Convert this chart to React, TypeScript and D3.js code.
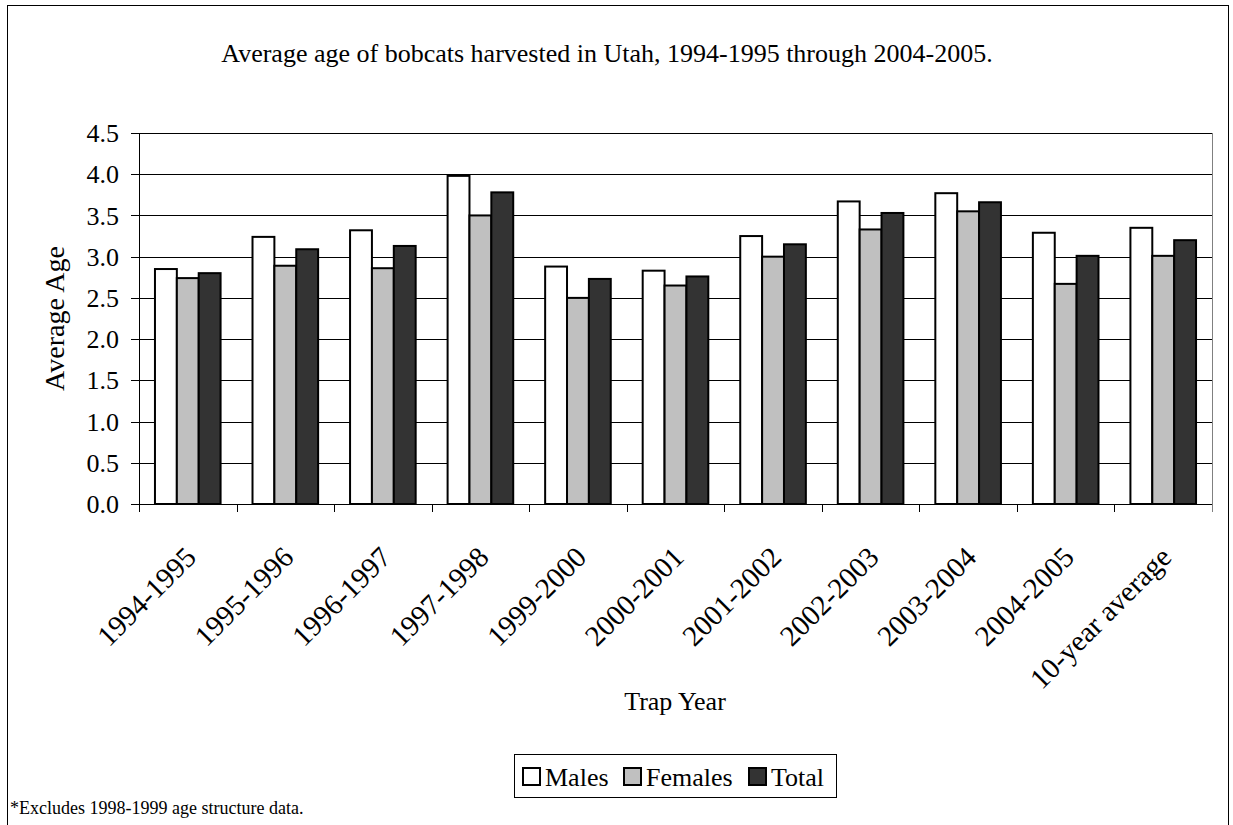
import React from "react";
import * as d3 from "d3";

// trap years on the x axis
const trapYears = [
  "1994-1995",
  "1995-1996",
  "1996-1997",
  "1997-1998",
  "1999-2000",
  "2000-2001",
  "2001-2002",
  "2002-2003",
  "2003-2004",
  "2004-2005",
  "10-year average",
];
const seriesNames = ["Males", "Females", "Total"];
const males = [2.85, 3.24, 3.32, 3.98, 2.88, 2.83, 3.25, 3.67, 3.77, 3.29, 3.35];
const females = [2.74, 2.89, 2.86, 3.5, 2.5, 2.65, 3.0, 3.33, 3.55, 2.67, 3.01];
const totals = [2.8, 3.09, 3.13, 3.78, 2.73, 2.76, 3.15, 3.53, 3.66, 3.01, 3.2];
const yTicks = [0, 0.5, 1, 1.5, 2, 2.5, 3, 3.5, 4, 4.5];

const title = "Average age of bobcats harvested in Utah, 1994-1995 through 2004-2005.";
const footnote = "*Excludes 1998-1999 age structure data.";

const W = 1233;
const H = 825;
const plot = { left: 139, right: 1212, top: 133, bottom: 504 };
const serif = { fontFamily: "'Liberation Serif', 'Times New Roman', serif" };
const fills: Record<string, string> = { Males: "#ffffff", Females: "#c0c0c0", Total: "#333333" };

export default function App() {
  const x0 = d3.scaleBand<string>().domain(trapYears).range([plot.left, plot.right]);
  const x1 = d3
    .scaleBand<string>()
    .domain(seriesNames)
    .range([0, x0.bandwidth()])
    .paddingOuter(0.73);
  const y = d3.scaleLinear().domain([0, 4.5]).range([plot.bottom, plot.top]);

  const values: Record<string, number[]> = { Males: males, Females: females, Total: totals };

  // legend swatch positions
  const legendX = [523, 624, 749];

  return (
    <svg
      width={W}
      height={H}
      style={{ position: "absolute", left: 0, top: 0, background: "#fff", ...serif }}
    >
      <rect x={0} y={0} width={W} height={H} fill="#fff" />
      {/* outer frame */}
      <rect x={7.5} y={5.5} width={1221} height={H} fill="none" stroke="#000" strokeWidth={1} />

      <text x={607} y={62} textAnchor="middle" fontSize={26} style={serif}>
        {title}
      </text>

      {/* gridlines */}
      {yTicks
        .filter((t) => t > 0)
        .map((t) => (
          <line
            key={"g" + t}
            x1={plot.left}
            x2={plot.right}
            y1={Math.round(y(t)) + 0.5}
            y2={Math.round(y(t)) + 0.5}
            stroke="#000"
            strokeWidth={1}
          />
        ))}
      <line x1={plot.right + 0.5} x2={plot.right + 0.5} y1={plot.top} y2={plot.bottom + 8} stroke="#808080" />

      {/* bars */}
      {trapYears.map((cat, i) => (
        <g key={cat}>
          {seriesNames.map((s) => (
            <rect
              key={s}
              x={(x0(cat) ?? 0) + (x1(s) ?? 0)}
              y={y(values[s][i])}
              width={x1.bandwidth()}
              height={y(0) - y(values[s][i])}
              fill={fills[s]}
              stroke="#000"
              strokeWidth={2}
            />
          ))}
        </g>
      ))}

      {/* y axis */}
      <line x1={plot.left + 0.5} x2={plot.left + 0.5} y1={plot.top} y2={plot.bottom} stroke="#000" />
      {yTicks.map((t) => (
        <g key={"t" + t}>
          <line
            x1={plot.left - 8}
            x2={plot.left}
            y1={Math.round(y(t)) + 0.5}
            y2={Math.round(y(t)) + 0.5}
            stroke="#000"
          />
          <text x={plot.left - 20} y={y(t)} dy="0.35em" textAnchor="end" fontSize={26} style={serif}>
            {t.toFixed(1)}
          </text>
        </g>
      ))}
      <text
        transform={`translate(64, ${(plot.top + plot.bottom) / 2}) rotate(-90)`}
        textAnchor="middle"
        fontSize={28}
        style={serif}
      >
        Average Age
      </text>

      {/* x axis */}
      <line x1={plot.left} x2={plot.right} y1={plot.bottom + 0.5} y2={plot.bottom + 0.5} stroke="#000" />
      {trapYears.map((cat) => (
        <line
          key={"xt" + cat}
          x1={Math.round(x0(cat) ?? 0) + 0.5}
          x2={Math.round(x0(cat) ?? 0) + 0.5}
          y1={plot.bottom}
          y2={plot.bottom + 8}
          stroke="#000"
        />
      ))}
      {trapYears.map((cat) => {
        const cx = (x0(cat) ?? 0) + x0.bandwidth() / 2 + 10;
        const cy = plot.bottom + 55;
        return (
          <text
            key={"xl" + cat}
            transform={`translate(${cx}, ${cy}) rotate(-45)`}
            textAnchor="end"
            fontSize={29}
            style={serif}
          >
            {cat}
          </text>
        );
      })}
      <text x={675} y={710} textAnchor="middle" fontSize={26} style={serif}>
        Trap Year
      </text>

      {/* legend */}
      <rect x={514.5} y={754.5} width={322} height={43} fill="#fff" stroke="#000" />
      {seriesNames.map((s, i) => (
        <g key={"lg" + s}>
          <rect x={legendX[i]} y={768} width={17} height={17} fill={fills[s]} stroke="#000" strokeWidth={2} />
          <text x={legendX[i] + 22} y={786} fontSize={26} style={serif}>
            {s}
          </text>
        </g>
      ))}

      <text x={10} y={814} fontSize={18} style={serif}>
        {footnote}
      </text>
    </svg>
  );
}
